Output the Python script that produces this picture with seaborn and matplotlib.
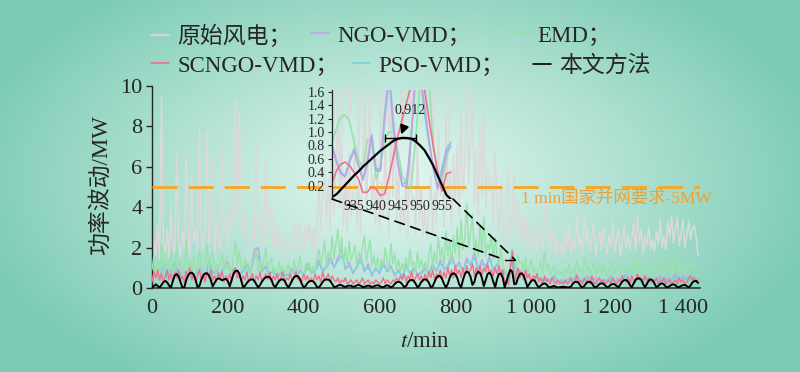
import numpy as np
import matplotlib
matplotlib.use("Agg")
import matplotlib.pyplot as plt
import seaborn as sns
from matplotlib.lines import Line2D
from matplotlib.patches import ConnectionPatch

sns.set_style("ticks")
plt.rcParams['font.family'] = ['Liberation Serif', 'Noto Sans CJK SC']
plt.rcParams['mathtext.fontset'] = 'stix'

# ---- data, 5-min grid for the dense series ----
t5 = np.arange(0, 1441, 5)
t10 = np.arange(0, 1441, 10)

raw_wind = [
    1.2, 2.4, 1.6, 3.1, 1.4, 9.5, 2.2, 1.8, 2.9, 1.5, 4.1, 2.0,
    1.7, 6.6, 2.3, 1.4, 2.8, 1.9, 6.6, 2.5, 1.6, 5.5, 2.2, 3.0,
    1.8, 8.0, 2.6, 1.9, 3.2, 7.7, 2.1, 2.8, 6.2, 1.7, 3.4, 2.2,
    1.9, 6.8, 2.7, 3.5, 2.0, 2.9, 4.2, 3.1, 9.3, 3.5, 8.7, 4.0,
    2.6, 3.1, 3.7, 2.2, 1.8, 3.0, 2.4, 7.0, 2.9, 3.6, 2.1, 2.7,
    6.5, 2.4, 3.3, 4.2, 2.0, 2.8, 1.7, 3.0, 2.3, 1.9, 2.6, 1.5,
    2.2, 1.8, 2.7, 3.2, 1.6, 2.9, 3.2, 2.1, 1.8, 3.1, 2.4, 3.2,
    2.0, 2.9, 1.7, 3.4, 5.2, 2.8, 4.6, 6.0, 3.3, 5.4, 2.9, 8.3,
    3.6, 6.2, 8.5, 4.0, 7.2, 3.1, 5.6, 2.8, 6.8, 3.5, 4.4, 7.6,
    3.0, 5.1, 2.7, 6.3, 9.3, 3.8, 7.0, 9.8, 4.2, 5.6, 3.1, 6.4,
    2.9, 5.3, 3.6, 7.5, 4.0, 2.6, 9.8, 4.5, 8.2, 3.4, 6.0, 2.8,
    4.4, 3.0, 5.8, 2.5, 8.0, 3.9, 4.6, 2.7, 7.2, 3.3, 5.0, 2.6,
    4.1, 2.4, 3.7, 5.5, 2.8, 4.8, 3.2, 7.9, 4.6, 6.2, 3.0, 8.4,
    3.8, 5.9, 2.9, 6.6, 4.2, 7.1, 3.5, 8.8, 4.7, 6.3, 9.9, 5.2,
    7.4, 9.8, 4.1, 6.9, 3.6, 8.2, 4.5, 9.0, 3.9, 6.0, 4.8, 5.5,
    3.2, 6.8, 4.0, 2.8, 5.2, 3.1, 0.6, 4.6, 5.8, 2.3, 3.8, 5.6,
    2.5, 4.4, 3.0, 3.5, 2.2, 3.6, 1.9, 2.8, 3.2, 2.0, 2.7, 1.8,
    2.6, 3.0, 1.9, 4.4, 2.3, 3.3, 1.7, 2.5, 2.9, 1.6, 2.4, 1.8,
    2.2, 1.5, 2.8, 2.0, 3.1, 1.7, 2.4, 1.9, 3.5, 2.1, 2.6, 1.6,
    3.7, 2.2, 2.9, 1.8, 2.5, 3.2, 1.6, 2.3, 2.8, 1.9, 3.0, 2.1,
    1.7, 2.6, 2.0, 3.3, 1.8, 2.4, 2.9, 1.6, 2.2, 3.1, 2.0, 2.7,
    1.9, 2.5, 3.2, 1.8, 3.6, 2.3, 2.9, 1.7, 2.6, 2.1, 3.0, 1.9,
    2.4, 1.8, 2.8, 2.2, 3.4, 2.0, 2.6, 1.9, 3.3, 2.5, 3.6, 2.2,
    2.9, 3.5, 2.1, 2.7, 3.4, 2.0, 2.6, 3.3, 2.4, 2.9, 3.1, 2.5,
    1.6]

emd = [
    0.9, 1.6, 0.7, 1.3, 0.8, 2.2, 1.0, 0.6, 1.4, 0.9, 1.8, 0.7,
    1.1, 2.0, 0.8, 1.5, 0.6, 1.2, 2.4, 0.9, 1.3, 0.7, 1.6, 1.0,
    0.8, 1.9, 1.1, 0.7, 1.4, 2.1, 0.9, 1.5, 1.8, 0.8, 1.2, 0.9,
    1.3, 1.7, 0.8, 1.5, 1.0, 1.2, 0.7, 1.6, 2.3, 1.1, 1.9, 1.0,
    0.9, 1.4, 0.8, 1.2, 0.7, 1.1, 1.5, 1.9, 0.8, 1.3, 0.9, 1.4,
    2.0, 0.9, 1.2, 1.5, 0.7, 1.0, 0.6, 1.3, 0.8, 1.1, 0.7, 0.9,
    1.2, 0.6, 0.9, 1.4, 0.7, 1.1, 1.6, 0.8, 0.6, 1.2, 0.9, 1.3,
    0.7, 1.1, 0.8, 1.5, 1.9, 1.2, 1.6, 2.4, 1.0, 1.8, 1.3, 2.6,
    1.4, 2.2, 2.9, 1.5, 2.5, 1.2, 2.0, 1.1, 2.3, 1.4, 1.7, 2.1,
    1.0, 1.8, 1.2, 2.1, 2.6, 1.3, 1.9, 2.4, 1.1, 1.6, 1.0, 1.5,
    0.9, 1.4, 1.1, 2.0, 1.3, 0.8, 2.2, 1.2, 1.7, 0.9, 1.4, 0.8,
    1.2, 0.9, 1.5, 0.8, 1.9, 1.1, 1.3, 0.7, 1.8, 1.0, 1.4, 0.9,
    1.3, 0.8, 1.6, 2.2, 1.1, 1.8, 1.2, 2.5, 1.5, 2.0, 1.1, 2.8,
    1.6, 2.3, 1.2, 2.6, 1.7, 3.0, 1.4, 3.4, 1.9, 2.5, 4.2, 2.0,
    2.8, 3.6, 1.7, 2.4, 1.5, 3.1, 1.8, 3.5, 1.6, 2.2, 1.9, 2.6,
    1.4, 2.5, 1.6, 1.1, 2.0, 1.2, 0.85, 0.85, 0.30, 0.70, 1.70, 0.28,
    1.0, 1.6, 1.2, 1.3, 0.8, 1.5, 0.7, 1.1, 1.4, 0.8, 1.0, 0.6,
    1.0, 1.3, 0.7, 1.8, 0.9, 1.2, 0.6, 0.9, 1.1, 0.6, 0.9, 0.7,
    0.8, 0.5, 1.0, 0.7, 1.2, 0.6, 0.9, 0.7, 1.4, 0.8, 1.0, 0.6,
    1.5, 0.8, 1.1, 0.7, 0.9, 1.3, 0.6, 0.9, 1.1, 0.7, 1.2, 0.8,
    0.6, 1.0, 0.8, 1.3, 0.7, 0.9, 1.2, 0.6, 0.8, 1.2, 0.7, 1.0,
    0.7, 0.9, 1.3, 0.7, 1.5, 0.9, 1.1, 0.6, 1.0, 0.8, 1.2, 0.7,
    0.9, 0.7, 1.1, 0.8, 1.4, 0.8, 1.0, 0.7, 1.3, 0.9, 1.5, 0.8,
    1.2, 1.4, 0.8, 1.0, 1.3, 0.7, 1.0, 1.3, 0.9, 1.1, 1.2, 0.9,
    0.6]

scngo_vmd = [
    0.3, 0.8, 0.5, 0.9, 0.4, 0.7, 0.3, 0.6, 0.9, 0.4, 0.7, 0.3,
    0.8, 0.5, 0.9, 0.4, 0.6, 0.3, 0.8, 0.5, 1.0, 0.4, 0.7, 0.3,
    0.6, 0.9, 0.4, 0.7, 0.3, 0.8, 0.5, 0.9, 0.4, 0.6, 0.3, 0.7,
    0.5, 0.8, 0.3, 0.6, 0.4, 0.7, 0.3, 0.9, 1.0, 0.5, 0.7, 0.3,
    0.6, 0.4, 0.8, 0.3, 0.5, 0.7, 0.3, 0.6, 0.4, 0.8, 0.3, 0.5,
    0.7, 0.4, 0.8, 0.3, 0.6, 0.4, 0.7, 0.3, 0.5, 0.8, 0.3, 0.5,
    0.4, 0.7, 0.3, 0.6, 0.8, 0.4, 0.5, 0.3, 0.7, 0.4, 0.6, 0.3,
    0.5, 0.3, 0.7, 0.4, 0.6, 0.3, 0.8, 0.4, 0.5, 0.7, 0.3, 0.6,
    0.4, 0.3, 0.5, 0.2, 0.4, 0.3, 0.5, 0.2, 0.3, 0.4, 0.2, 0.3,
    0.4, 0.2, 0.3, 0.5, 0.2, 0.3, 0.4, 0.2, 0.3, 0.2, 0.4, 0.3,
    0.2, 0.3, 0.5, 0.2, 0.4, 0.3, 0.2, 0.4, 0.3, 0.5, 0.3, 0.6,
    0.4, 0.7, 0.3, 0.6, 0.4, 0.8, 0.3, 0.5, 0.7, 0.4, 0.6, 0.3,
    0.7, 0.4, 0.8, 0.5, 0.9, 0.4, 0.7, 0.5, 0.9, 0.4, 0.8, 0.5,
    1.0, 0.6, 0.9, 0.5, 1.1, 0.7, 0.9, 0.5, 1.0, 0.6, 1.1, 0.7,
    0.9, 1.2, 0.6, 1.0, 0.7, 1.1, 0.6, 1.0, 0.8, 1.2, 0.7, 0.9,
    0.6, 1.0, 0.7, 1.1, 0.6, 0.9, 0.24, 0.40, 0.15, 0.95, 1.80, 0.12,
    0.7, 1.0, 0.5, 0.8, 0.4, 0.9, 0.5, 0.7, 0.3, 0.6, 0.4, 0.7,
    0.3, 0.5, 0.2, 0.6, 0.3, 0.4, 0.2, 0.5, 0.3, 0.2, 0.4, 0.2,
    0.3, 0.2, 0.4, 0.2, 0.3, 0.5, 0.2, 0.3, 0.6, 0.3, 0.4, 0.2,
    0.5, 0.3, 0.4, 0.2, 0.6, 0.3, 0.2, 0.4, 0.5, 0.3, 0.4, 0.2,
    0.3, 0.4, 0.2, 0.5, 0.3, 0.2, 0.4, 0.3, 0.6, 0.4, 0.3, 0.5,
    0.2, 0.6, 0.4, 0.3, 0.7, 0.4, 0.5, 0.3, 0.6, 0.4, 0.5, 0.3,
    0.4, 0.3, 0.5, 0.2, 0.4, 0.3, 0.5, 0.2, 0.3, 0.4, 0.2, 0.3,
    0.4, 0.2, 0.5, 0.3, 0.4, 0.2, 0.3, 0.5, 0.6, 0.4, 0.5, 0.3,
    0.4]

proposed = [
    0.02, 0.10, 0.18, 0.10, 0.02, 0.15, 0.29, 0.35, 0.28, 0.12, 0.03, 0.35,
    0.62, 0.69, 0.58, 0.30, 0.03, 0.02, 0.38, 0.62, 0.74, 0.76, 0.66, 0.40,
    0.05, 0.10, 0.40, 0.62, 0.72, 0.73, 0.63, 0.40, 0.08, 0.25, 0.42, 0.48,
    0.44, 0.38, 0.43, 0.45, 0.34, 0.08, 0.40, 0.70, 0.84, 0.86, 0.72, 0.40,
    0.05, 0.10, 0.25, 0.36, 0.42, 0.43, 0.35, 0.18, 0.03, 0.15, 0.32, 0.45,
    0.53, 0.56, 0.54, 0.40, 0.15, 0.03, 0.20, 0.35, 0.42, 0.43, 0.35, 0.15,
    0.03, 0.20, 0.40, 0.54, 0.60, 0.58, 0.45, 0.20, 0.03, 0.10, 0.25, 0.33,
    0.35, 0.33, 0.22, 0.05, 0.03, 0.15, 0.30, 0.40, 0.42, 0.41, 0.35, 0.20,
    0.05, 0.06, 0.12, 0.15, 0.14, 0.08, 0.05, 0.10, 0.12, 0.11, 0.06, 0.08,
    0.13, 0.15, 0.12, 0.06, 0.05, 0.10, 0.12, 0.10, 0.05, 0.08, 0.12, 0.14,
    0.10, 0.05, 0.04, 0.10, 0.14, 0.10, 0.03, 0.08, 0.20, 0.28, 0.31, 0.28,
    0.18, 0.04, 0.10, 0.28, 0.38, 0.40, 0.36, 0.22, 0.04, 0.12, 0.30, 0.40,
    0.43, 0.40, 0.26, 0.05, 0.08, 0.30, 0.50, 0.60, 0.58, 0.45, 0.20, 0.03,
    0.20, 0.50, 0.68, 0.73, 0.68, 0.50, 0.18, 0.03, 0.40, 0.70, 0.81, 0.76,
    0.55, 0.15, 0.30, 0.66, 0.81, 0.74, 0.50, 0.10, 0.40, 0.70, 0.76, 0.62,
    0.30, 0.05, 0.45, 0.70, 0.72, 0.50, 0.03, 0.35, 0.66, 0.90, 0.80, 0.21,
    0.20, 0.50, 0.70, 0.73, 0.62, 0.35, 0.05, 0.20, 0.35, 0.40, 0.34, 0.15,
    0.03, 0.12, 0.20, 0.23, 0.18, 0.06, 0.03, 0.08, 0.10, 0.06, 0.02, 0.04,
    0.05, 0.06, 0.05, 0.03, 0.03, 0.08, 0.22, 0.30, 0.31, 0.25, 0.10, 0.03,
    0.10, 0.24, 0.30, 0.31, 0.24, 0.08, 0.03, 0.10, 0.20, 0.23, 0.22, 0.12,
    0.03, 0.08, 0.16, 0.20, 0.18, 0.10, 0.03, 0.18, 0.32, 0.39, 0.40, 0.32,
    0.15, 0.04, 0.22, 0.40, 0.47, 0.48, 0.40, 0.20, 0.04, 0.20, 0.38, 0.43,
    0.38, 0.22, 0.04, 0.10, 0.20, 0.23, 0.18, 0.06, 0.03, 0.10, 0.16, 0.18,
    0.14, 0.05, 0.04, 0.10, 0.14, 0.15, 0.10, 0.03, 0.12, 0.28, 0.34, 0.35,
    0.25]

# 10-min grid
ngo_vmd = [
    0.5, 0.9, 0.4, 1.1, 0.6, 0.8, 1.3, 0.5, 0.9, 0.7, 1.2, 0.6,
    0.8, 1.0, 0.5, 1.4, 0.7, 0.9, 0.6, 1.1, 1.3, 0.7, 1.0, 0.6,
    0.9, 1.2, 0.7, 1.9, 2.0, 0.8, 1.1, 0.6, 0.9, 0.5, 0.8, 0.6,
    0.7, 1.0, 0.5, 0.9, 0.6, 1.2, 0.7, 0.9, 1.4, 0.8, 1.1, 1.6,
    1.0, 1.5, 1.9, 0.9, 1.3, 0.7, 1.1, 1.6, 0.8, 1.2, 0.6, 1.0,
    0.7, 1.3, 0.8, 1.1, 0.6, 0.9, 0.5, 1.2, 0.7, 1.0, 0.6, 0.8,
    1.0, 0.7, 1.2, 0.8, 1.4, 0.9, 1.1, 1.7, 1.0, 1.3, 0.8, 1.5,
    1.1, 1.8, 0.9, 1.4, 1.0, 1.6, 0.9, 1.2, 0.8, 0.78, 0.42, 1.9,
    0.6, 0.9, 0.5, 0.7, 0.4, 0.6, 0.5, 0.3, 0.5, 0.4, 0.6, 0.3,
    0.4, 0.3, 0.5, 0.4, 0.7, 0.3, 0.4, 0.6, 0.4, 0.5, 0.3, 0.4,
    0.4, 0.6, 0.3, 0.5, 0.4, 0.7, 0.4, 0.3, 0.6, 0.4, 0.5, 0.3,
    0.4, 0.4, 0.6, 0.3, 0.5, 0.4, 0.7, 0.4, 0.6, 0.4, 0.5, 0.4,
    0.4]

pso_vmd = [
    0.6, 0.8, 0.5, 1.2, 0.5, 0.9, 1.1, 0.6, 0.8, 0.8, 1.0, 0.5,
    0.9, 0.8, 0.6, 1.2, 0.8, 0.7, 0.7, 1.0, 1.1, 0.8, 0.9, 0.7,
    0.8, 1.1, 0.8, 1.5, 1.6, 0.9, 1.0, 0.7, 0.8, 0.6, 0.7, 0.7,
    0.6, 0.9, 0.6, 0.8, 0.7, 1.0, 0.8, 0.8, 1.2, 0.9, 1.0, 1.3,
    1.1, 1.3, 1.6, 1.0, 1.1, 0.8, 1.0, 1.4, 0.9, 1.0, 0.7, 0.9,
    0.8, 1.1, 0.9, 1.0, 0.7, 0.8, 0.6, 1.0, 0.8, 0.9, 0.7, 0.7,
    0.9, 0.8, 1.0, 0.9, 1.2, 1.0, 1.0, 1.4, 1.1, 1.1, 0.9, 1.3,
    1.2, 1.5, 1.0, 1.2, 1.1, 1.4, 1.0, 1.1, 0.9, 0.80, 0.45, 1.85,
    0.7, 0.8, 0.5, 0.6, 0.4, 0.5, 0.5, 0.4, 0.4, 0.4, 0.5, 0.3,
    0.4, 0.3, 0.4, 0.4, 0.6, 0.3, 0.4, 0.5, 0.4, 0.4, 0.3, 0.3,
    0.4, 0.5, 0.3, 0.4, 0.4, 0.6, 0.3, 0.3, 0.5, 0.4, 0.4, 0.3,
    0.3, 0.4, 0.5, 0.3, 0.4, 0.4, 0.6, 0.3, 0.5, 0.4, 0.4, 0.5,
    0.4]

# zoomed window, 1-min resolution
tz = np.arange(930, 958)
z_raw = [0.6, 2.4, 0.3, 2.8, 1.1, 4.6, 0.5, 2.6, 0.2, 2.2, 5.8, 0.4, 2.9, 1.0,
         3.1, 2.3, 0.9, 3.2, 1.3, 2.0, 3.8, 1.2, 3.0, 0.7, 2.4, 5.6, 0.3, 1.5]
z_ngo = [0.78, 0.55, 0.38, 0.33, 0.55, 0.72, 0.50, 0.28, 0.55, 0.94, 0.42, 0.42, 1.30, 1.90,
         1.10, 0.50, 0.19, 0.19, 0.90, 1.90, 1.90, 1.40, 0.90, 0.48, 0.15, 0.40, 0.70, 0.78]
z_pso = [0.80, 0.58, 0.40, 0.35, 0.58, 0.75, 0.52, 0.30, 0.50, 0.96, 0.45, 0.45, 1.20, 1.80,
         1.00, 0.55, 0.22, 0.25, 0.95, 1.80, 1.85, 1.30, 0.85, 0.45, 0.18, 0.45, 0.75, 0.84]
z_emd = [0.85, 1.05, 1.22, 1.26, 1.15, 0.85, 0.60, 0.45, 0.88, 0.88, 0.30, 0.50, 0.90, 1.00,
         1.00, 0.70, 0.35, 0.20, 0.18, 0.90, 1.70, 1.90, 1.80, 0.80, 0.40, 0.28, 0.60, 0.85]
z_scngo = [0.24, 0.42, 0.52, 0.55, 0.50, 0.40, 0.30, 0.10, 0.10, 0.18, 0.15, 0.05, 0.08, 0.35,
           0.65, 0.95, 1.20, 1.45, 1.70, 1.85, 1.80, 1.65, 1.20, 0.80, 0.40, 0.12, 0.38, 0.40]
z_prop = [0.03, 0.07, 0.14, 0.21, 0.28, 0.35, 0.41, 0.48, 0.54, 0.60, 0.66, 0.72, 0.77, 0.82,
          0.87, 0.90, 0.912, 0.91, 0.90, 0.86, 0.80, 0.73, 0.62, 0.50, 0.35, 0.21, 0.06, 0.0]

xticks = [0, 200, 400, 600, 800, 1000, 1200, 1400]
xtick_labels = ['0', '200', '400', '600', '800', '1 000', '1 200', '1 400']
z_xticks = [935, 940, 945, 950, 955]
limit_mw = 5
peak_t, peak_v = 945.5, 0.912

colors = {
    'raw': '#dadada', 'ngo': '#c3a2e6', 'emd': '#98e2ac',
    'scngo': '#f2708a', 'pso': '#74d4dc', 'prop': 'black',
}

# ---- figure ----
fig = plt.figure(figsize=(8, 3.72), dpi=100)

# teal radial background
bg = fig.add_axes([0, 0, 1, 1], zorder=-5)
yy, xx = np.mgrid[0:372, 0:800]
r = np.clip(np.sqrt(((xx - 395) / 430.0) ** 2 + ((yy - 180) / 240.0) ** 2), 0, 1)
c0 = np.array([0.89, 0.965, 0.94])
c1 = np.array([0.49, 0.80, 0.71])
img = c0 + (c1 - c0) * (r[..., None] ** 1.1)
bg.imshow(img, aspect='auto', extent=[0, 1, 0, 1], origin='upper')
bg.axis('off')

ax = fig.add_axes([0.19, 0.2258, 0.685, 0.543])
ax.set_facecolor('none')

sns.lineplot(x=t5, y=raw_wind, ax=ax, color=colors['raw'], lw=1.1, zorder=1)
sns.lineplot(x=t10, y=ngo_vmd, ax=ax, color=colors['ngo'], lw=1.0, zorder=2)
sns.lineplot(x=t10, y=pso_vmd, ax=ax, color=colors['pso'], lw=1.0, zorder=2)
sns.lineplot(x=t5, y=emd, ax=ax, color=colors['emd'], lw=1.0, zorder=3)
sns.lineplot(x=t5, y=scngo_vmd, ax=ax, color=colors['scngo'], lw=1.0, zorder=5)
sns.lineplot(x=t5, y=proposed, ax=ax, color=colors['prop'], lw=1.4, zorder=6)

ax.axhline(limit_mw, color='#f5a623', lw=2, dashes=(9, 4), zorder=7)
ax.text(1225, 4.45, '1 min国家并网要求-5MW', color='#eba23a', fontsize=12.5,
        ha='center', va='center')

ax.set_xlim(0, 1445)
ax.set_ylim(0, 10)
ax.set_xticks(xticks)
ax.set_xticklabels(xtick_labels)
ax.set_yticks([0, 2, 4, 6, 8, 10])
ax.tick_params(axis='x', length=0, pad=8, labelsize=16)
ax.tick_params(axis='y', direction='out', length=4, width=1, pad=3, labelsize=16)
for s in ['top', 'right']:
    ax.spines[s].set_visible(False)
ax.spines['left'].set_linewidth(1.0)
ax.spines['bottom'].set_linewidth(1.2)
ax.spines['bottom'].set_color('#333333')
ax.set_ylabel('功率波动/MW', fontsize=16.5)
ax.yaxis.set_label_coords(-0.073, 0.51)
ax.set_xlabel('$t$/min', fontsize=16.5)
ax.xaxis.set_label_coords(0.498, -0.215)

# zoom rectangle top edge
ax.plot([930, 957], [1.4, 1.4], color='k', lw=1.0, zorder=8)

# ---- inset ----
axin = fig.add_axes([0.415, 0.465, 0.154, 0.292])
axin.set_facecolor('none')
sns.lineplot(x=tz, y=z_raw, ax=axin, color=colors['raw'], lw=1.0)
sns.lineplot(x=tz, y=z_emd, ax=axin, color=colors['emd'], lw=1.2)
sns.lineplot(x=tz, y=z_pso, ax=axin, color=colors['pso'], lw=1.2)
sns.lineplot(x=tz, y=z_ngo, ax=axin, color=colors['ngo'], lw=1.2)
sns.lineplot(x=tz, y=z_scngo, ax=axin, color=colors['scngo'], lw=1.2)
sns.lineplot(x=tz, y=z_prop, ax=axin, color='k', lw=1.6)
axin.errorbar(peak_t, peak_v, xerr=3.5, fmt='none', ecolor='k', elinewidth=1, capsize=3)
axin.annotate(f'{peak_v}', xy=(peak_t + 0.2, peak_v + 0.05), xytext=(947.8, 1.32),
              fontsize=10, ha='center', va='center',
              arrowprops=dict(arrowstyle='-|>', color='k', lw=1.6, mutation_scale=12,
                              shrinkA=6, shrinkB=0))
axin.set_xlim(930, 958)
axin.set_ylim(0, 1.62)
axin.set_yticks([0.2, 0.4, 0.6, 0.8, 1.0, 1.2, 1.4, 1.6])
axin.set_yticklabels(['0.2', '0.4', '0.6', '0.8', '1.0', '1.2', '1.4', '1.6'])
axin.set_xticks(z_xticks)
axin.tick_params(axis='x', length=0, pad=1, labelsize=10)
axin.tick_params(axis='y', direction='out', length=3, pad=2, labelsize=10)
for s in ['top', 'right', 'bottom']:
    axin.spines[s].set_visible(False)
axin.spines['left'].set_linewidth(0.9)
axin.set_xlabel('')
axin.set_ylabel('')

for tA, tB in [(930, 930), (957.5, 957)]:
    con = ConnectionPatch(xyA=(tA, 0), coordsA=axin.transData,
                          xyB=(tB, 1.4), coordsB=ax.transData,
                          color='k', lw=1.2, linestyle=(0, (6, 4)))
    fig.add_artist(con)

# ---- legend, two loose rows ----
entries = [
    ('原始风电；', colors['raw'], 151, 36),
    ('NGO-VMD；', colors['ngo'], 311, 36),
    ('EMD；', colors['emd'], 511, 36),
    ('SCNGO-VMD；', colors['scngo'], 151, 66),
    ('PSO-VMD；', colors['pso'], 352, 66),
    ('本文方法', 'black', 533, 66),
]
for lab, col, px, py in entries:
    h = Line2D([], [], color=col, lw=1.2)
    fig.legend(handles=[h], labels=[lab], loc='center left',
               bbox_to_anchor=(px / 800, 1 - py / 372), frameon=False,
               fontsize=16.5, handlelength=0.8, handletextpad=0.35,
               borderpad=0, borderaxespad=0)

fig.savefig('out.png', dpi=100)
